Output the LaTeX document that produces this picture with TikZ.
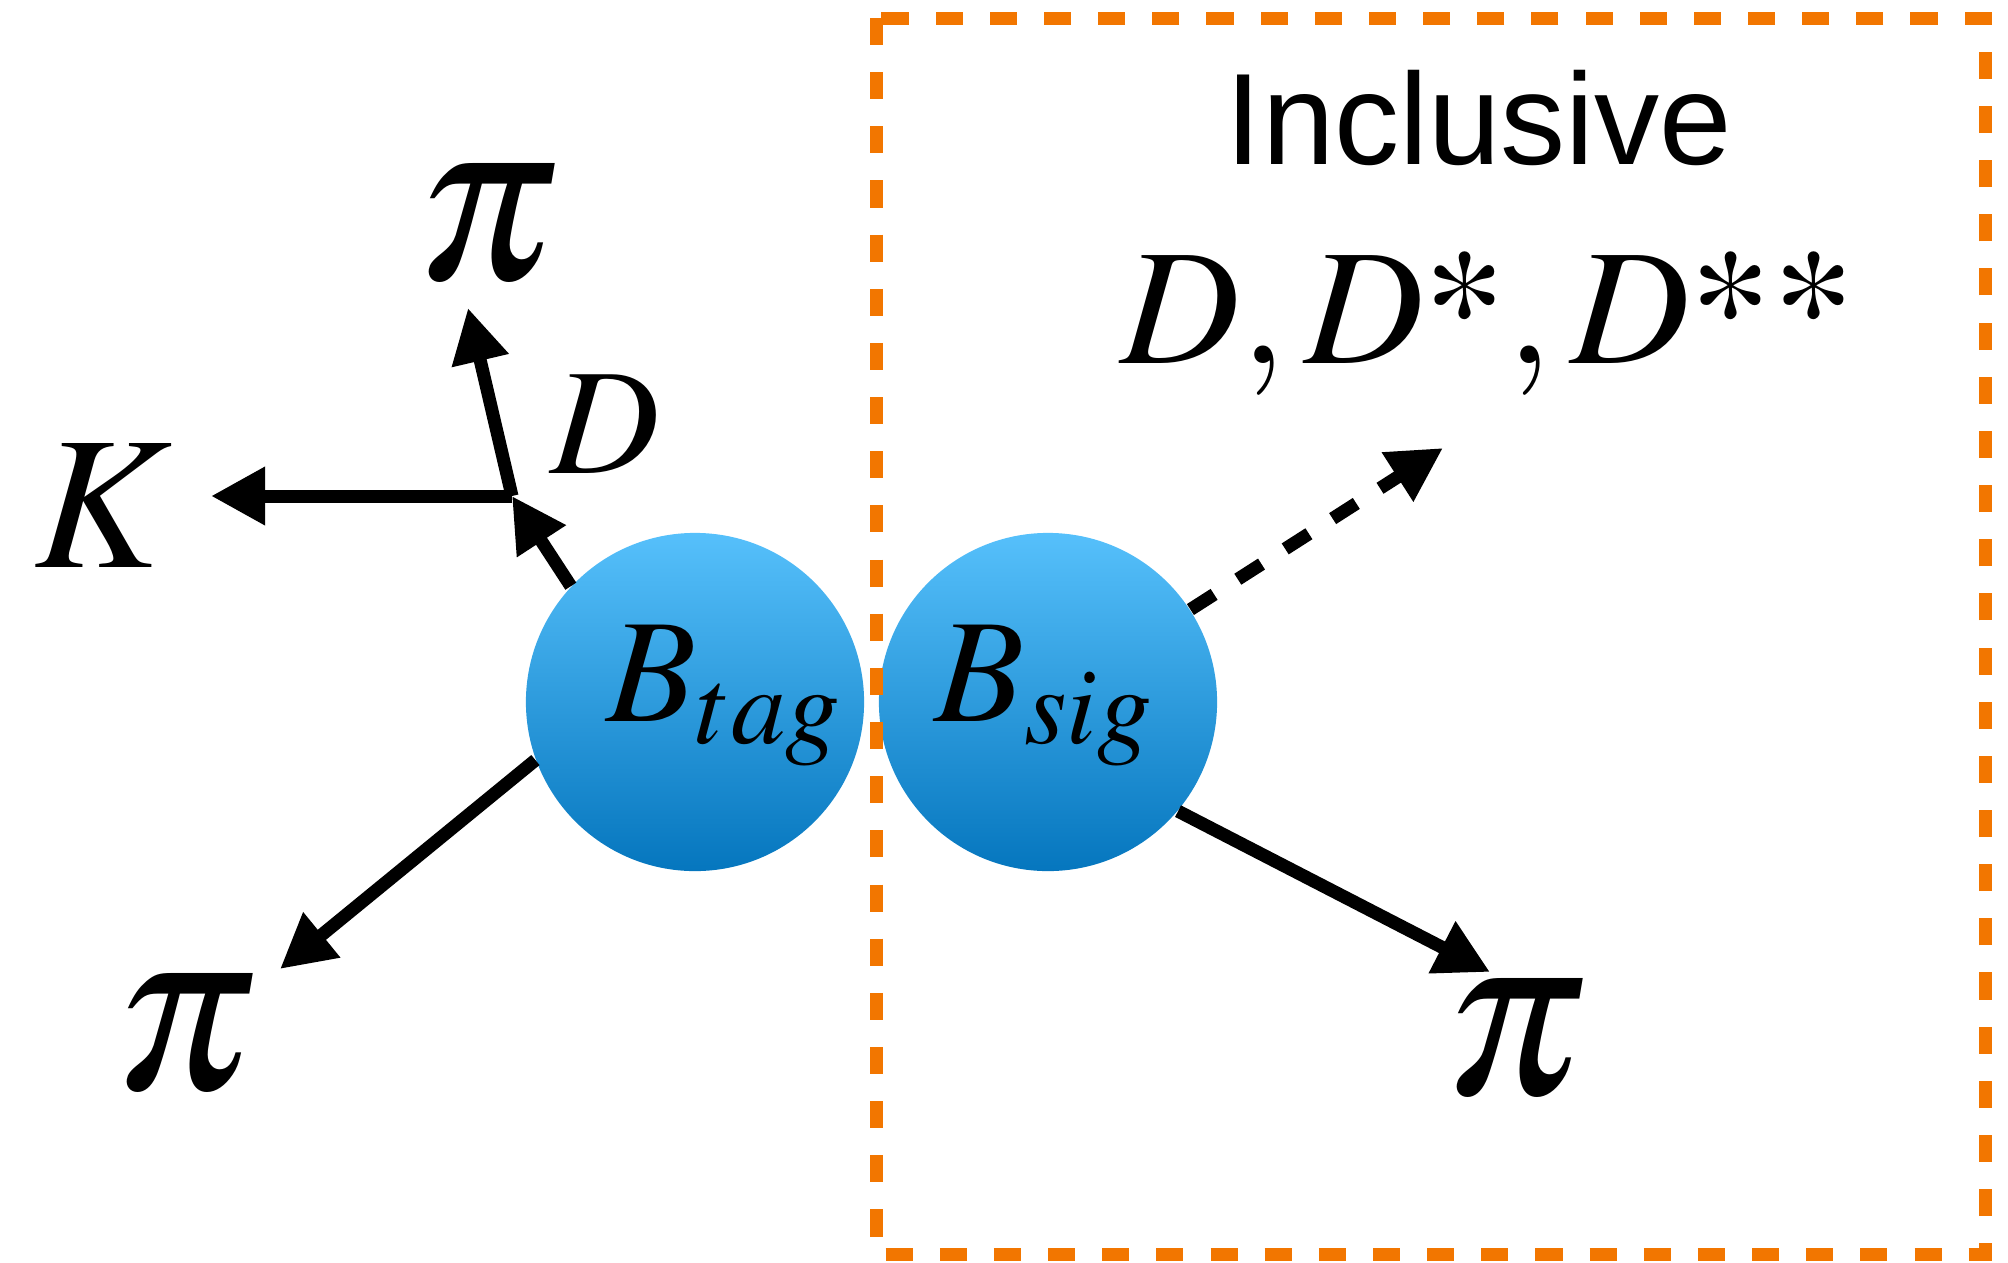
\documentclass[tikz,border=0pt]{standalone}
\usepackage{mathptmx}
\usepackage[no-math]{fontspec}
\newfontfamily\sansfnt{Liberation Sans}
\newcommand\tmsast{\usefont{OT1}{ptm}{m}{n}}
\usetikzlibrary{arrows.meta}
\definecolor{bluetop}{RGB}{86,192,251}
\definecolor{bluebot}{RGB}{5,118,190}
\definecolor{orangeb}{RGB}{242,118,0}
\begin{document}
\begin{tikzpicture}[x=0.01cm,y=-0.01cm,
  ball/.style={circle, minimum size=3.38cm, inner sep=0pt, top color=bluetop, bottom color=bluebot, draw=none},
  arr/.style={line width=3.7pt, -{Triangle[length=5.4mm,width=5.5mm]}},
  dasharr/.style={arr, dash pattern=on 8pt off 8pt},
  lab/.style={inner sep=0pt, anchor=base},
  pilab/.style={inner sep=0pt, font=\fontsize{66}{70}\selectfont},
  bigmath/.style={font=\fontsize{42}{48}\selectfont},
]
\useasboundingbox (0,0) rectangle (2008,1263);
% balls
\node[ball] (tag) at (695,702) {};
\node[ball] (sig) at (1048,702) {};
\node[lab, bigmath] (tagl) at (724,721) {$B_{tag}$};
\node[lab, bigmath] (sigl) at (1044,721) {$B_{sig}$};
% labels
\node[lab, font=\fontsize{54}{60}\selectfont] (K) at (103,567) {$K$};
\node[lab, font=\fontsize{43}{48}\selectfont] (Dl) at (605,473) {$D$};
\node[pilab] (pitop) at (488,224) {$\pi$};
\node[pilab] (pibl) at (186,1034) {$\pi$};
\node[pilab] (pibr) at (1516,1039) {$\pi$};
\node[lab, font=\sansfnt\fontsize{37}{42}\selectfont] (incl) at (1479,164) {Inclusive};
\node[lab, font=\fontsize{47}{52}\selectfont] (dd) at (1488,363) {$D,D\mbox{\tmsast *},D\mbox{\tmsast **}$};
% coordinates
\coordinate (J) at (512,496);
\coordinate (Ktip) at (211,496);
\coordinate (pitip) at (468,308);
\coordinate (bltip) at (280,969);
\coordinate (brtip) at (1490,972);
\coordinate (dtip) at (1443,448);
% arrows
\draw[arr] (tag.137) -- (J);
\draw[arr] (J) -- (Ktip);
\draw[arr] (J) -- (pitip);
\draw[arr] (tag.200) -- (bltip);
\draw[arr] (sig.-40) -- (brtip);
\draw[dasharr] (sig.33) -- (dtip);
% inclusive box
\draw[orangeb, line width=3.7pt, dash pattern=on 7.7pt off 7.7pt] (876,18) rectangle (1985,1254);
\end{tikzpicture}
\end{document}
